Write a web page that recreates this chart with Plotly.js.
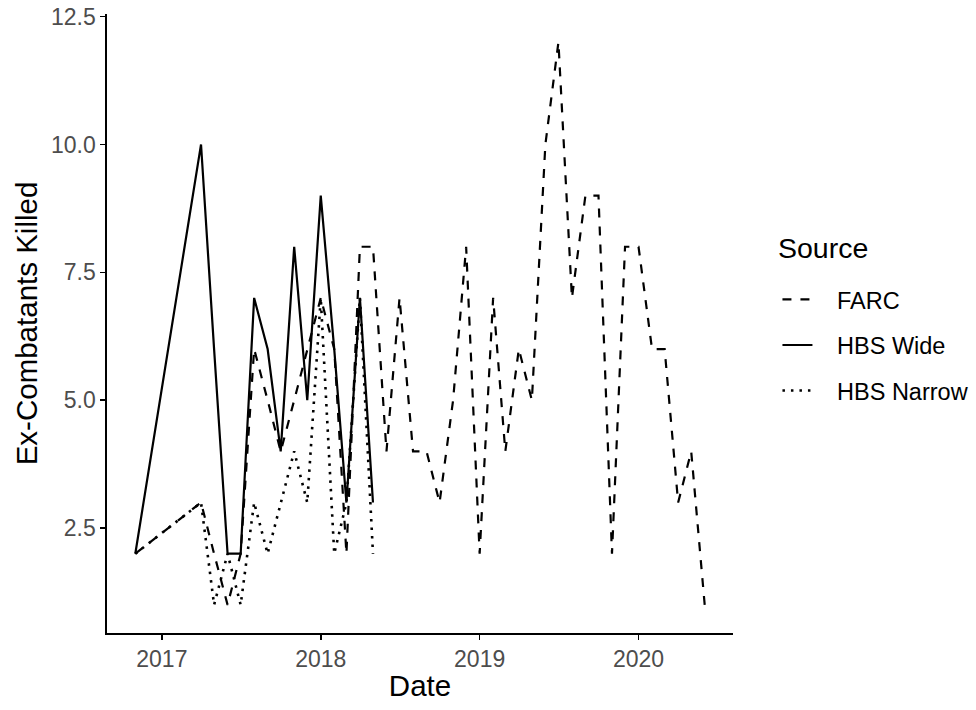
<!DOCTYPE html>
<html>
<head>
<meta charset="utf-8">
<script src="https://cdn.plot.ly/plotly-3.0.1.min.js"></script>
<style>html,body{margin:0;padding:0;background:#fff;}#chart{width:976px;height:710px;}</style>
</head>
<body>
<div id="chart"></div>
<script>
// FARC series (monthly, first of month)
const farcDates = ['2016-11-01','2017-04-01','2017-05-01','2017-06-01','2017-07-01','2017-08-01','2017-09-01','2017-10-01','2017-11-01','2017-12-01',
  '2018-01-01','2018-02-01','2018-03-01','2018-04-01','2018-05-01','2018-06-01','2018-07-01','2018-08-01','2018-09-01','2018-10-01','2018-11-01','2018-12-01',
  '2019-01-01','2019-02-01','2019-03-01','2019-04-01','2019-05-01','2019-06-01','2019-07-01','2019-08-01','2019-09-01','2019-10-01','2019-11-01','2019-12-01',
  '2020-01-01','2020-02-01','2020-03-01','2020-04-01','2020-05-01','2020-06-01'];
const farcValues = [2,3,2,1,2,6,5,4,5,6,
  7,6,2,8,8,4,7,4,4,3,5,8,
  2,7,4,6,5,10,12,7,9,9,2,8,
  8,6,6,3,4,1];

// HBS Wide series
const wideDates = ['2016-11-01','2017-04-01','2017-05-01','2017-06-01','2017-07-01','2017-08-01','2017-09-01','2017-10-01','2017-11-01','2017-12-01',
  '2018-01-01','2018-02-01','2018-03-01','2018-04-01','2018-05-01'];
const wideValues = [2,10,6,2,2,7,6,4,8,5,9,6,3,7,3];

// HBS Narrow series
const narrowDates = ['2016-11-01','2017-04-01','2017-05-01','2017-06-01','2017-07-01','2017-08-01','2017-09-01','2017-10-01','2017-11-01','2017-12-01',
  '2018-01-01','2018-02-01','2018-03-01','2018-04-01','2018-05-01'];
const narrowValues = [2,3,1,2,1,3,2,3,4,3,7,2,3,7,2];

// axis ticks and labels
const xTickVals = ['2017-01-01','2018-01-01','2019-01-01','2020-01-01'];
const xTickText = ['2017','2018','2019','2020'];
const yTickVals = [2.5,5,7.5,10,12.5];
const yTickText = ['2.5','5.0','7.5','10.0','12.5'];
const seriesNames = ['FARC','HBS Wide','HBS Narrow'];
const legendTitle = 'Source';

const FONT = 'Liberation Sans, Arial, sans-serif';
const PAD = '\u00A0\u00A0\u00A0';

const traces = [
  {x: farcDates, y: farcValues, name: PAD + seriesNames[0], type: 'scatter', mode: 'lines', legendgroup: 'a',
   line: {color: '#000', width: 2.2, dash: '9px,9px'}},
  {x: wideDates, y: wideValues, name: PAD + seriesNames[1], type: 'scatter', mode: 'lines', legendgroup: 'b',
   line: {color: '#000', width: 2.2, dash: 'solid'}},
  {x: narrowDates, y: narrowValues, name: PAD + seriesNames[2], type: 'scatter', mode: 'lines', legendgroup: 'c',
   line: {color: '#000', width: 2.6, dash: '2.5px,6px'}}
];

const axisCommon = {
  showline: true, linecolor: '#000', linewidth: 1.6,
  ticks: 'outside', ticklen: 5, tickwidth: 1.6, tickcolor: '#000',
  showgrid: false, zeroline: false, automargin: false,
  tickfont: {family: FONT, size: 23, color: '#4D4D4D'}
};

const layout = {
  width: 976, height: 710,
  margin: {l: 107, r: 243, t: 14, b: 77, autoexpand: false},
  paper_bgcolor: '#fff', plot_bgcolor: '#fff',
  font: {family: FONT, color: '#000'},
  xaxis: Object.assign({}, axisCommon, {
    type: 'date', range: ['2016-08-28', '2020-08-05'],
    tickmode: 'array', tickvals: xTickVals, ticktext: xTickText,
    title: {text: 'Date', font: {family: FONT, size: 29.5, color: '#000'}, standoff: 4}
  }),
  yaxis: Object.assign({}, axisCommon, {
    range: [0.45, 12.55],
    tickmode: 'array', tickvals: yTickVals, ticktext: yTickText,
    title: {text: 'Ex-Combatants Killed', font: {family: FONT, size: 29.5, color: '#000'}, standoff: 5}
  }),
  showlegend: true,
  legend: {
    x: 1.071, xanchor: 'left', y: 0.574, yanchor: 'top',
    font: {family: FONT, size: 23.5, color: '#000'},
    traceorder: 'grouped', tracegroupgap: 12,
    bgcolor: 'rgba(0,0,0,0)', borderwidth: 0
  },
  annotations: [{
    text: legendTitle, xref: 'paper', yref: 'paper',
    x: 1.069, xanchor: 'left', y: 0.622, yanchor: 'middle',
    showarrow: false, font: {family: FONT, size: 28.5, color: '#000'}
  }]
};

Plotly.newPlot('chart', traces, layout, {staticPlot: true, displayModeBar: false});
</script>
</body>
</html>
